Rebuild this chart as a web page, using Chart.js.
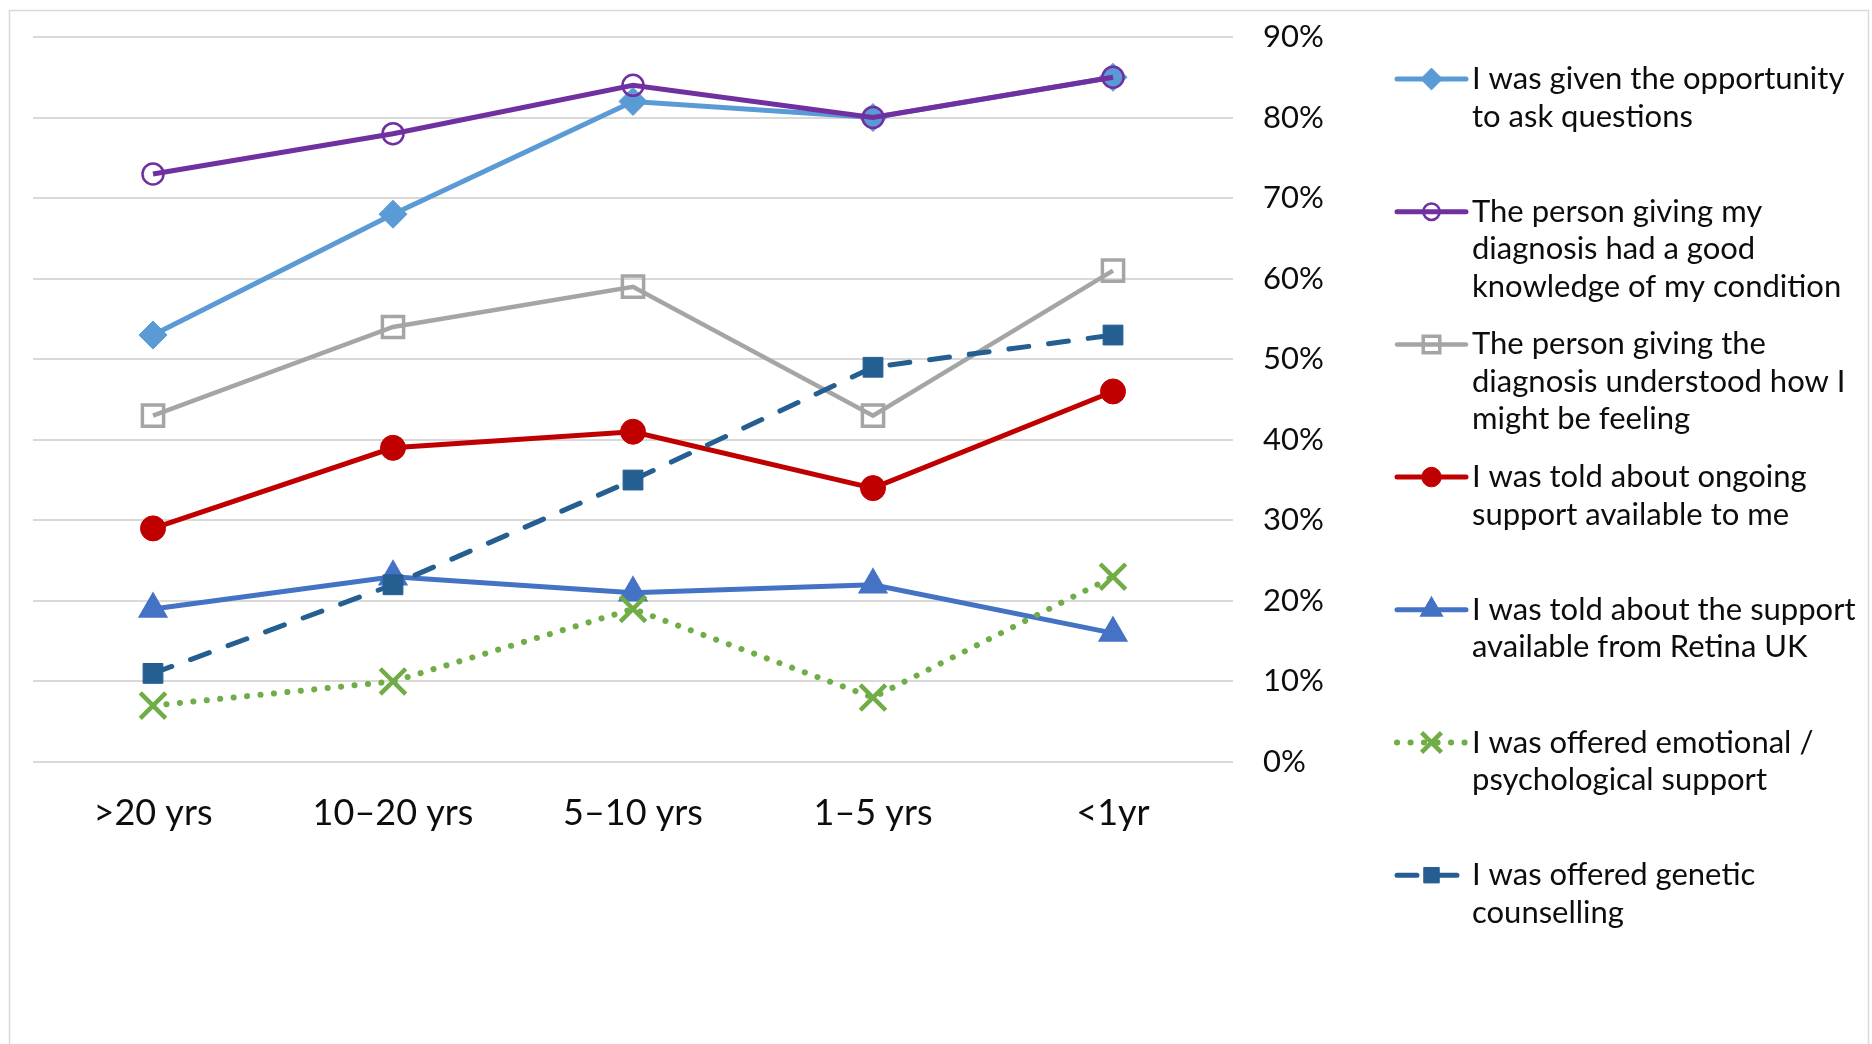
<!DOCTYPE html>
<html>
<head>
<meta charset="utf-8">
<script src="https://cdn.jsdelivr.net/npm/chart.js@4.4.1/dist/chart.umd.min.js"></script>
<style>
  html, body { margin: 0; padding: 0; background: #fff; }
  #wrap { width: 1872px; height: 1044px; position: relative; }
</style>
</head>
<body>
<div id="wrap"><canvas id="diagnosisChart"></canvas></div>
<script>
// time since diagnosis
const categories = ['>20 yrs', '10–20 yrs', '5–10 yrs', '1–5 yrs', '<1yr'];

// % agreeing, per category
const askQuestions = [53, 68, 82, 80, 85];
const goodKnowledge = [73, 78, 84, 80, 85];
const understoodFeeling = [43, 54, 59, 43, 61];
const ongoingSupport = [29, 39, 41, 34, 46];
const retinaSupport = [19, 23, 21, 22, 16];
const emotionalSupport = [7, 10, 19, 8, 23];
const geneticCounselling = [11, 22, 35, 49, 53];

const seriesLabels = [
    ['I was given the opportunity', 'to ask questions'],
    ['The person giving my', 'diagnosis had a good', 'knowledge of my condition'],
    ['The person giving the', 'diagnosis understood how I', 'might be feeling'],
    ['I was told about ongoing', 'support available to me'],
    ['I was told about the support', 'available from Retina UK'],
    ['I was offered emotional /', 'psychological support'],
    ['I was offered genetic', 'counselling']
];

const yMax = 90;
const yStep = 10;

const FONT = 'Lato, "Noto Sans", sans-serif';

function series(i, data, color, style, extra) {
    return Object.assign({
        label: seriesLabels[i].join(' '),
        data: data,
        borderColor: color,
        backgroundColor: color,
        borderWidth: 5,
        pointStyle: style,
        pointBackgroundColor: color,
        pointBorderColor: color,
        pointBorderWidth: 1,
        pointRadius: 12,
        tension: 0,
        fill: false,
        order: 10 - i
    }, extra || {});
}

const datasets = [
    series(0, askQuestions, '#5B9BD5', 'rectRot', { pointRadius: 14 }),
    series(1, goodKnowledge, '#7030A0', 'circle', { pointRadius: 10.5, pointBorderWidth: 2.5, pointBackgroundColor: 'rgba(0,0,0,0)' }),
    series(2, understoodFeeling, '#A5A5A5', 'rect', { borderWidth: 4.5, pointRadius: 15, pointBorderWidth: 3.5, pointBackgroundColor: 'rgba(0,0,0,0)' }),
    series(3, ongoingSupport, '#C00000', 'circle', { pointRadius: 12.5 }),
    series(4, retinaSupport, '#4472C4', 'triangle', { pointRadius: 16, pointBorderWidth: 1.5 }),
    series(5, emotionalSupport, '#70AD47', 'crossRot', { borderWidth: 6, borderDash: [0.1, 13.4], borderCapStyle: 'round', pointRadius: 18, pointBorderWidth: 4.5 }),
    series(6, geneticCounselling, '#255E91', 'rect', { borderDash: [20, 20], borderCapStyle: 'round', pointRadius: 14 })
];

// outer frame
const framePlugin = {
    id: 'frame',
    beforeDraw(chart) {
        const ctx = chart.ctx;
        ctx.save();
        ctx.strokeStyle = '#D9D9D9';
        ctx.lineWidth = 1.5;
        ctx.strokeRect(9.5, 10.5, 1859, 1100);
        ctx.restore();
    }
};

// legend on the right, with wrapped text
const sideLegend = {
    id: 'sideLegend',
    afterDraw(chart) {
        const ctx = chart.ctx;
        const x0 = 1397, x1 = 1466, textX = 1472;
        chart.data.datasets.forEach((ds, i) => {
            const y = 79 + i * 132.7;
            ctx.save();
            ctx.strokeStyle = ds.borderColor;
            ctx.lineWidth = ds.borderWidth;
            ctx.lineCap = ds.borderCapStyle || 'round';
            ctx.setLineDash(ds.borderDash || []);
            ctx.beginPath();
            ctx.moveTo(x0, y);
            ctx.lineTo(x1, y);
            ctx.stroke();
            ctx.setLineDash([]);
            ctx.lineCap = 'butt';
            ctx.fillStyle = ds.pointBackgroundColor;
            ctx.strokeStyle = ds.pointBorderColor;
            ctx.lineWidth = ds.pointBorderWidth;
            Chart.helpers.drawPoint(ctx, {
                pointStyle: ds.pointStyle,
                radius: ds.pointRadius * 0.78,
                borderWidth: ds.pointBorderWidth,
                rotation: 0
            }, (x0 + x1) / 2, y);

            ctx.fillStyle = '#0d0d0d';
            ctx.font = '31px ' + FONT;
            ctx.textBaseline = 'middle';
            ctx.textAlign = 'left';
            seriesLabels[i].forEach((line, k) => {
                ctx.fillText(line, textX, y + k * 37.5);
            });
            ctx.restore();
        });
    }
};

new Chart(document.getElementById('diagnosisChart'), {
    type: 'line',
    data: {
        labels: categories,
        datasets: datasets
    },
    options: {
        responsive: true,
        maintainAspectRatio: false,
        animation: false,
        layout: {
            padding: { left: 33, top: 37, right: 0, bottom: 0 }
        },
        plugins: {
            legend: { display: false },
            tooltip: { enabled: false }
        },
        scales: {
            x: {
                offset: true,
                grid: { display: false },
                border: { display: false },
                ticks: {
                    padding: 22,
                    color: '#0d0d0d',
                    font: { family: FONT, size: 36 }
                },
                afterFit: s => { s.height = 1044 - 762; }
            },
            y: {
                position: 'right',
                min: 0,
                max: yMax,
                grid: { color: '#D9D9D9', lineWidth: 2, drawTicks: false },
                border: { display: false },
                ticks: {
                    stepSize: yStep,
                    padding: 30,
                    color: '#0d0d0d',
                    font: { family: FONT, size: 31 },
                    callback: v => v + '%'
                },
                afterFit: s => {
                    s.width = 1872 - 1233;
                    s.paddingTop = 0;
                    s.paddingBottom = 0;
                }
            }
        }
    },
    plugins: [framePlugin, sideLegend]
});
</script>
</body>
</html>
